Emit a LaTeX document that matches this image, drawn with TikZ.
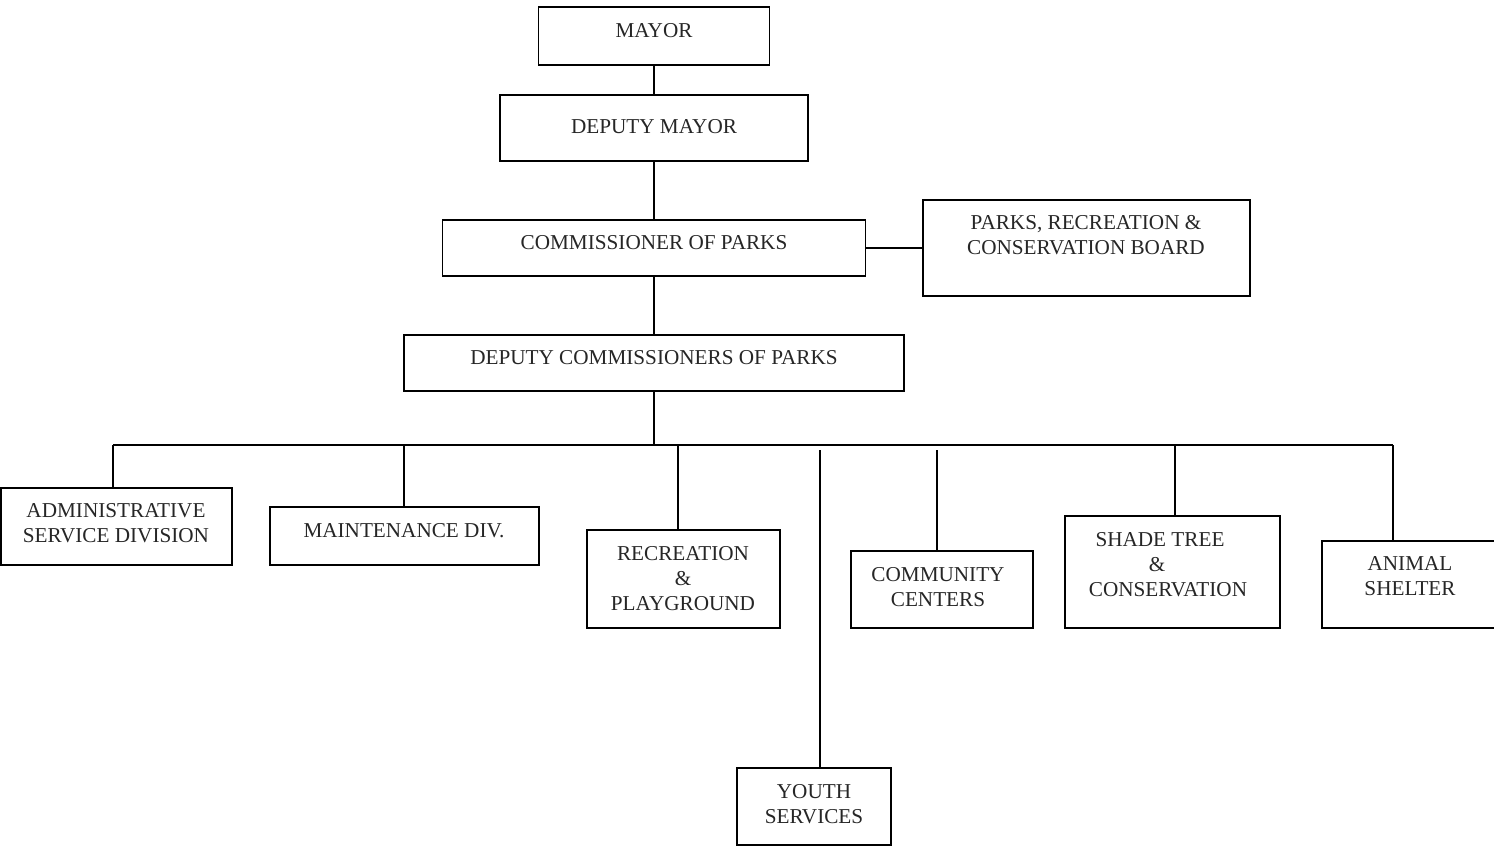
\documentclass[tikz,border=0pt]{standalone}
\usepackage{fontspec}
\setmainfont{Liberation Serif}
\begin{document}
\begin{tikzpicture}[x=1pt,y=-1pt,
  box/.style={draw=black, line width=1.7pt, inner sep=0pt, outer sep=0pt},
  lbl/.style={inner sep=0pt, align=center, text=black!85,
    font=\fontsize{21.2}{25}\selectfont},
  wire/.style={draw=black, line width=1.7pt}]
\useasboundingbox (0,0) rectangle (1494,846);

% boxes (centre, size)
\node[box, minimum width=231, minimum height=58] (mayor)  at (654,36) {};
\node[box, minimum width=308, minimum height=66] (dmayor) at (654,128) {};
\node[box, minimum width=423, minimum height=56] (comm)   at (654,248) {};
\node[box, minimum width=327, minimum height=96] (board)  at (1086.5,248) {};
\node[box, minimum width=500, minimum height=56] (dcomm)  at (654,363) {};
\node[box, minimum width=231, minimum height=77] (admin)  at (116.5,526.5) {};
\node[box, minimum width=269, minimum height=58] (maint)  at (404.5,536) {};
\node[box, minimum width=193, minimum height=98] (rec)    at (683.5,579) {};
\node[box, minimum width=154, minimum height=77] (youth)  at (814,806.5) {};
\node[box, minimum width=182, minimum height=77] (cc)     at (942,589.5) {};
\node[box, minimum width=215, minimum height=112] (shade) at (1172.5,572) {};
\node[box, minimum width=176, minimum height=87] (animal) at (1410,584.5) {};

% texts
\node[lbl] (mayor-t)  at (654,31)   {MAYOR};
\node[lbl] (dmayor-t) at (654,127)  {DEPUTY MAYOR};
\node[lbl] (comm-t)   at (654,243)  {COMMISSIONER OF PARKS};
\node[lbl] (board-t)  at (1086,235.5) {PARKS, RECREATION \&\\CONSERVATION BOARD};
\node[lbl] (dcomm-t)  at (654,358)  {DEPUTY COMMISSIONERS OF PARKS};
\node[lbl] (admin-t)  at (116,523.5) {ADMINISTRATIVE\\SERVICE DIVISION};
\node[lbl] (maint-t)  at (404,531)  {MAINTENANCE DIV.};
\node[lbl] (rec-t)    at (683,578.5) {RECREATION\\\&\\PLAYGROUND};
\node[lbl] (youth-t)  at (814,804.5) {YOUTH\\SERVICES};
\node[lbl] (cc-t)     at (938,587)  {COMMUNITY\\CENTERS};
\node[lbl] (shade-t)  at (1168,564.5) {\hspace*{-16pt}SHADE TREE\\[-0.5pt]\hspace*{-22pt}\&\\CONSERVATION};
\node[lbl] (animal-t) at (1410,576) {ANIMAL\\SHELTER};

% chain of command
\draw[wire] (mayor.south) -- (dmayor.north);
\draw[wire] (dmayor.south) -- (comm.north);
\draw[wire] (comm.east) -- (comm.east -| board.west);
\draw[wire] (comm.south) -- (dcomm.north);

% distribution bus
\coordinate (bus)  at (654,445);
\coordinate (busL) at (113,445);
\coordinate (busR) at (1393,445);
\draw[wire] (dcomm.south) -- (bus);
\draw[wire] (busL) -- (busR);

% drops to divisions
\coordinate (tA) at (113,445);
\coordinate (tM) at (404,445);
\coordinate (tR) at (678,445);
\coordinate (tY) at (820,450);
\coordinate (tC) at (937,450);
\coordinate (tS) at (1175,445);
\coordinate (tN) at (1393,445);
\draw[wire] (tA) -- (tA |- admin.north);
\draw[wire] (tM) -- (tM |- maint.north);
\draw[wire] (tR) -- (tR |- rec.north);
\draw[wire] (tY) -- (tY |- youth.north);
\draw[wire] (tC) -- (tC |- cc.north);
\draw[wire] (tS) -- (tS |- shade.north);
\draw[wire] (tN) -- (tN |- animal.north);
\end{tikzpicture}
\end{document}
